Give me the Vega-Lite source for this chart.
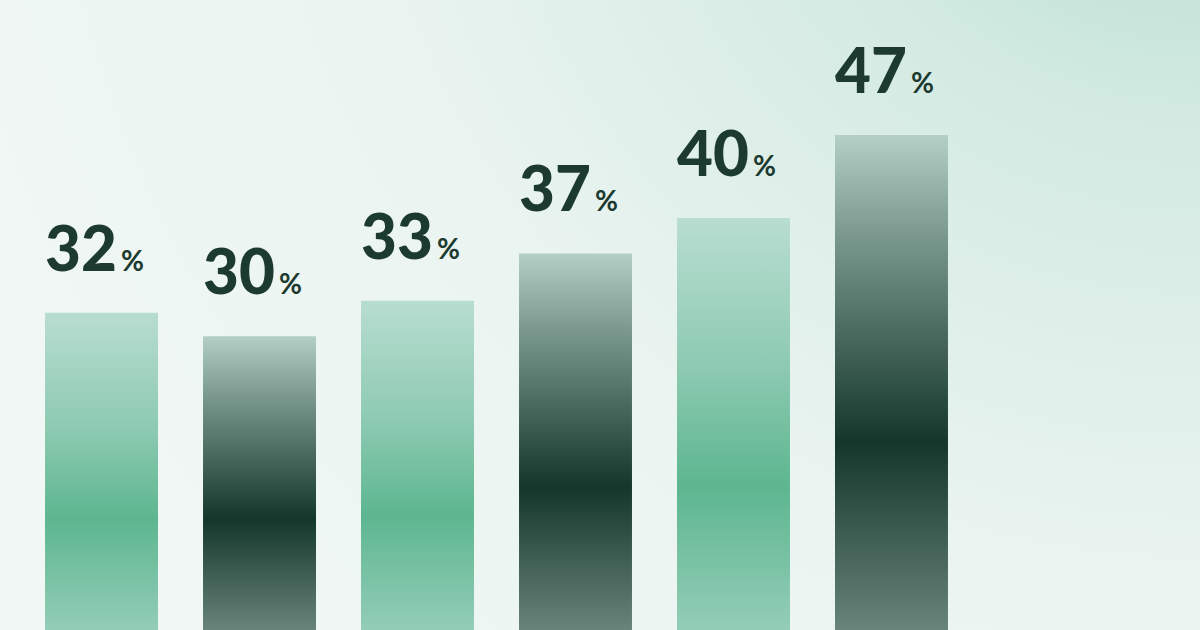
{
  "$schema": "https://vega.github.io/schema/vega-lite/v6.json",
  "width": 1200,
  "height": 630,
  "autosize": {"type": "fit", "contains": "padding"},
  "padding": 0,
  "background": "#ffffff",
  "config": {
    "view": {
      "stroke": null,
      "fill": {
        "gradient": "radial",
        "x1": 1, "y1": 0, "r1": 0,
        "x2": 1, "y2": 0, "r2": 1.1,
        "stops": [
          {"offset": 0, "color": "#a9d6c6"},
          {"offset": 0.3, "color": "#d2eae1"},
          {"offset": 0.65, "color": "#eaf4f0"},
          {"offset": 1, "color": "#f0f7f4"}
        ]
      }
    }
  },
  "data": {
    "values": [
      {"bar": "1", "value": 32, "tone": "light"},
      {"bar": "2", "value": 30, "tone": "dark"},
      {"bar": "3", "value": 33, "tone": "light"},
      {"bar": "4", "value": 37, "tone": "dark"},
      {"bar": "5", "value": 40, "tone": "light"},
      {"bar": "6", "value": 47, "tone": "dark"}
    ]
  },
  "encoding": {
    "x": {
      "field": "bar",
      "type": "nominal",
      "axis": null,
      "scale": {"range": [0, 993], "paddingInner": 0.285, "paddingOuter": 0.285}
    },
    "y": {
      "field": "value",
      "type": "quantitative",
      "axis": null,
      "scale": {"domain": [5.2, 58.4], "zero": false, "nice": false}
    }
  },
  "layer": [
    {
      "transform": [{"filter": "datum.tone === 'light'"}],
      "mark": {
        "type": "bar",
        "clip": true,
        "color": {
          "gradient": "linear", "x1": 0, "y1": 0, "x2": 0, "y2": 1,
          "stops": [
            {"offset": 0, "color": "#b8ddd1"},
            {"offset": 0.35, "color": "#8fcbb3"},
            {"offset": 0.65, "color": "#5db690"},
            {"offset": 1, "color": "#93cdb7"}
          ]
        }
      },
      "encoding": {"y2": {"datum": 5.2}}
    },
    {
      "transform": [{"filter": "datum.tone === 'dark'"}],
      "mark": {
        "type": "bar",
        "clip": true,
        "color": {
          "gradient": "linear", "x1": 0, "y1": 0, "x2": 0, "y2": 1,
          "stops": [
            {"offset": 0, "color": "#b3cfc6"},
            {"offset": 0.2, "color": "#7b998f"},
            {"offset": 0.62, "color": "#14362b"},
            {"offset": 1, "color": "#68847b"}
          ]
        }
      },
      "encoding": {"y2": {"datum": 5.2}}
    },
    {
      "mark": {
        "type": "text",
        "align": "left",
        "baseline": "alphabetic",
        "dy": -42,
        "font": "Lato",
        "fontWeight": 900,
        "fontSize": 62,
        "color": "#1d3a30"
      },
      "encoding": {
        "x": {"field": "bar", "type": "nominal", "bandPosition": 0},
        "text": {"field": "value", "type": "quantitative"}
      }
    },
    {
      "mark": {
        "type": "text",
        "align": "left",
        "baseline": "alphabetic",
        "dy": -42,
        "dx": 76,
        "font": "Lato",
        "fontWeight": 700,
        "fontSize": 28,
        "color": "#1d3a30"
      },
      "encoding": {
        "x": {"field": "bar", "type": "nominal", "bandPosition": 0},
        "text": {"value": "%"}
      }
    }
  ]
}
